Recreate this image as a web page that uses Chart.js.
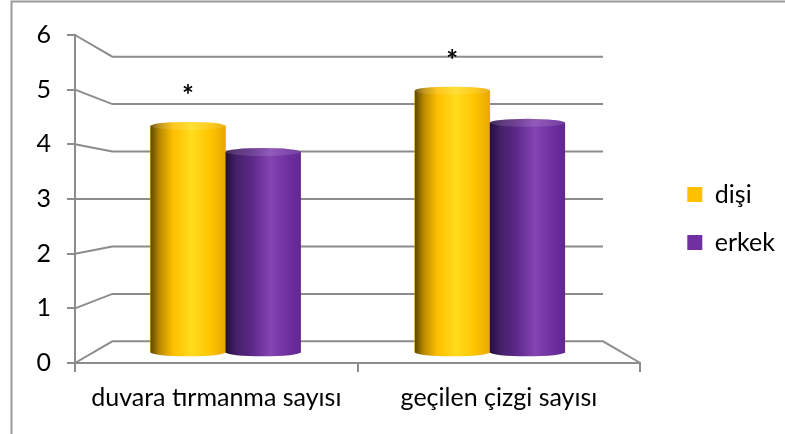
<!DOCTYPE html>
<html>
<head>
<meta charset="utf-8">
<script src="https://cdn.jsdelivr.net/npm/chart.js@4"></script>
<style>
  html, body { margin: 0; padding: 0; background: #fff; }
  #wrap { width: 785px; height: 434px; position: relative; }
</style>
</head>
<body>
<div id="wrap"><canvas id="chart"></canvas></div>
<script>
const categories = ["duvara tırmanma sayısı", "geçilen çizgi sayısı"];
const seriesNames = ["dişi", "erkek"];
const disiValues = [4.43, 5.12];
const erkekValues = [3.92, 4.49];
const yTicks = [0, 1, 2, 3, 4, 5, 6];
const marks = ["*", "*"]; // marks over the dişi bars

const gridGrey = "#8c8c8c";
const fontFamily = "Lato, 'Open Sans', sans-serif";
const fontSize = 25;
const wallDepth = 0.868; // back wall size compared with the front
const barDepth = 0.935;  // bars stand half way back

// left to right shading of each cylinder
const shades = [
  [[0, "#5e4600"], [0.12, "#b88a00"], [0.3, "#ffbe00"], [0.55, "#ffdc1c"], [0.8, "#ffc400"], [1, "#e8a800"]],
  [[0, "#241038"], [0.15, "#45206a"], [0.35, "#5c2888"], [0.6, "#8444b2"], [0.85, "#6d2e9e"], [1, "#622890"]]
];

const yMin = yTicks[0];
const yMax = yTicks[yTicks.length - 1];

function depthRange(min, max, depth) {
  const mid = (min + max) / 2;
  const half = (max - min) / 2 / depth;
  return { min: mid - half, max: mid + half };
}

const xBarRange = depthRange(-0.5, categories.length - 0.5, barDepth);

function pointsFor(values) {
  return categories.map((_, i) => ({ x: i, y: values[i] }));
}

const framePlugin = {
  id: "frame",
  beforeDraw(chart) {
    const ctx = chart.ctx;
    ctx.save();
    ctx.fillStyle = "#fff";
    ctx.fillRect(0, 0, chart.width, chart.height);
    ctx.strokeStyle = "#9a9a9a";
    ctx.lineWidth = 2;
    ctx.strokeRect(11.5, 1.5, chart.width + 20, chart.height + 20);
    ctx.restore();
  }
};

const wallPlugin = {
  id: "wall",
  beforeDatasetsDraw(chart) {
    const { ctx, chartArea: a, scales } = chart;
    const cx = (a.left + a.right) / 2;
    const backLeft = cx - (cx - a.left) * wallDepth;
    const backRight = cx + (a.right - cx) * wallDepth;
    ctx.save();
    ctx.strokeStyle = gridGrey;
    ctx.lineWidth = 2;
    yTicks.forEach(v => {
      const front = scales.y.getPixelForValue(v);
      const back = scales.yWall.getPixelForValue(v);
      ctx.beginPath();
      ctx.moveTo(a.left, front);
      ctx.lineTo(backLeft, back);
      ctx.lineTo(backRight, back);
      if (v === yMin) ctx.lineTo(a.right, front);
      ctx.stroke();
    });
    ctx.restore();
  }
};

const cylinderPlugin = {
  id: "cylinders",
  afterDatasetsDraw(chart) {
    const ctx = chart.ctx;
    chart.data.datasets.forEach((ds, di) => {
      chart.getDatasetMeta(di).data.forEach((bar, i) => {
        const { x, y, base, width } = bar.getProps(["x", "y", "base", "width"], true);
        const left = x - width / 2;
        const right = x + width / 2;
        const ry = 4;
        const grad = ctx.createLinearGradient(left, 0, right, 0);
        shades[di].forEach(([stop, colour]) => grad.addColorStop(stop, colour));

        ctx.save();
        ctx.fillStyle = grad;
        ctx.beginPath();
        ctx.moveTo(left, y);
        ctx.lineTo(left, base);
        ctx.ellipse(x, base, width / 2, ry, 0, Math.PI, 0, true);
        ctx.lineTo(right, y);
        ctx.ellipse(x, y, width / 2, ry, 0, 0, Math.PI, true);
        ctx.closePath();
        ctx.fill();

        ctx.beginPath();
        ctx.ellipse(x, y, width / 2, ry, 0, 0, Math.PI * 2);
        ctx.fillStyle = "rgba(255,255,255,0.12)";
        ctx.fill();

        if (di === 0 && marks[i]) {
          ctx.fillStyle = "#000";
          ctx.font = "bold 28px " + fontFamily;
          ctx.textAlign = "center";
          ctx.textBaseline = "middle";
          ctx.fillText(marks[i], x, y - 30);
        }
        ctx.restore();
      });
    });
  }
};

new Chart(document.getElementById("chart"), {
  type: "bar",
  data: {
    labels: categories,
    datasets: [
      {
        label: seriesNames[0],
        data: pointsFor(disiValues),
        backgroundColor: "#FFC000",
        borderWidth: 0,
        xAxisID: "xBar",
        yAxisID: "yBar"
      },
      {
        label: seriesNames[1],
        data: pointsFor(erkekValues),
        backgroundColor: "#7030A0",
        borderWidth: 0,
        xAxisID: "xBar",
        yAxisID: "yBar"
      }
    ]
  },
  options: {
    responsive: true,
    maintainAspectRatio: false,
    animation: false,
    devicePixelRatio: 1,
    barThickness: 75,
    layout: { padding: { left: 0, top: 23, right: 0, bottom: 20 } },
    plugins: {
      legend: {
        position: "right",
        labels: {
          color: "#000",
          font: { family: fontFamily, size: fontSize },
          boxWidth: 15,
          boxHeight: 15,
          padding: 23
        }
      },
      tooltip: { enabled: false }
    },
    scales: {
      x: {
        type: "category",
        position: "bottom",
        offset: true,
        grid: { offset: true, drawOnChartArea: false, tickLength: 9, color: gridGrey, lineWidth: 2 },
        border: { color: gridGrey, width: 2 },
        ticks: { color: "#000", font: { family: fontFamily, size: fontSize }, padding: 11, maxRotation: 0 },
        afterFit: scale => { scale.height = 51; }
      },
      xBar: {
        type: "linear",
        position: "top",
        offset: false,
        min: xBarRange.min,
        max: xBarRange.max,
        grid: { display: false },
        border: { display: false },
        ticks: { display: false },
        afterFit: scale => { scale.height = 12; }
      },
      y: {
        type: "linear",
        position: "left",
        min: yMin,
        max: yMax,
        grid: { drawOnChartArea: false, tickLength: 8, color: gridGrey, lineWidth: 2 },
        border: { color: gridGrey, width: 2 },
        ticks: { stepSize: 1, padding: 16, color: "#000", font: { family: fontFamily, size: fontSize } },
        afterFit: scale => { scale.width = 75; }
      },
      yBar: {
        type: "linear",
        display: false,
        ...depthRange(yMin, yMax, barDepth)
      },
      yWall: {
        type: "linear",
        position: "right",
        ...depthRange(yMin, yMax, wallDepth),
        grid: { display: false },
        border: { display: false },
        ticks: { display: false },
        afterFit: scale => { scale.width = 24; }
      }
    }
  },
  plugins: [framePlugin, wallPlugin, cylinderPlugin]
});
</script>
</body>
</html>
